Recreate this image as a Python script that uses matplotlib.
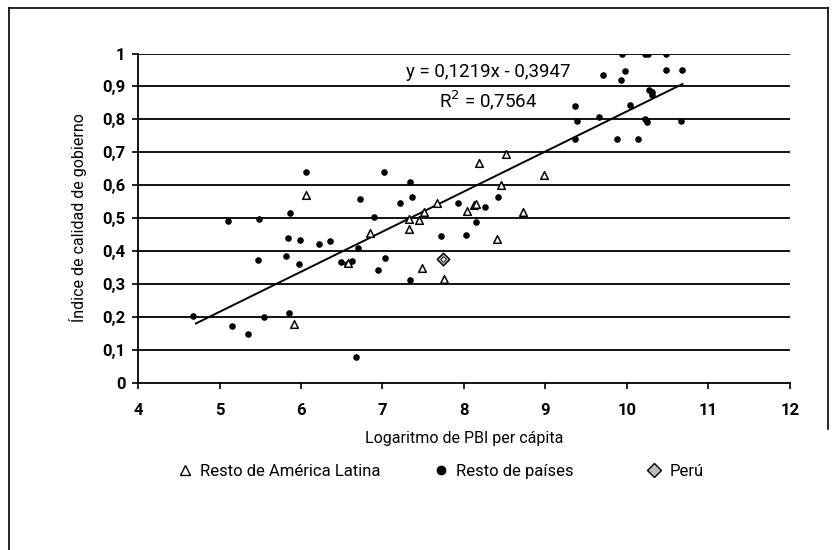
import numpy as np
import matplotlib
matplotlib.use("Agg")
import matplotlib.pyplot as plt
from matplotlib.lines import Line2D

plt.rcParams['font.family'] = ['Roboto', 'DejaVu Sans']

# Resto de America Latina (triangulos)
lat_x = [5.91, 6.06, 6.85, 6.58, 7.32, 7.45, 7.32, 7.51, 7.67, 8.04,
         8.12, 8.15, 8.19, 8.45, 8.52, 8.72, 8.98, 8.40, 7.48, 7.76]
lat_y = [0.177, 0.569, 0.453, 0.362, 0.496, 0.493, 0.467, 0.518, 0.545, 0.520,
         0.540, 0.542, 0.666, 0.600, 0.694, 0.519, 0.632, 0.435, 0.348, 0.316]

# Resto de paises (puntos)
res_x = [4.68, 5.10, 5.48, 5.86, 6.89, 6.72, 5.84, 5.99, 6.22, 6.36,
         5.47, 5.82, 5.98, 6.49, 6.63, 6.70, 6.94, 5.54, 5.85, 5.15,
         5.35, 6.67, 6.06, 7.02, 7.34, 7.36, 7.21, 7.93, 8.26, 8.42,
         8.15, 7.72, 8.02, 7.03, 7.34, 9.36, 9.39, 9.36, 9.66, 9.71,
         9.94, 10.22, 10.26, 10.48, 9.98, 9.93, 10.48, 10.68, 10.27, 10.31,
         10.31, 10.04, 10.22, 10.25, 10.66, 9.88, 10.13, 6.56]
res_y = [0.202, 0.492, 0.497, 0.516, 0.504, 0.558, 0.438, 0.432, 0.420, 0.429,
         0.373, 0.384, 0.359, 0.366, 0.369, 0.410, 0.342, 0.198, 0.212, 0.172,
         0.147, 0.078, 0.641, 0.639, 0.610, 0.563, 0.547, 0.545, 0.533, 0.565,
         0.487, 0.445, 0.449, 0.380, 0.311, 0.841, 0.795, 0.741, 0.808, 0.936,
         1.000, 1.000, 1.000, 1.000, 0.948, 0.921, 0.949, 0.949, 0.888, 0.882,
         0.873, 0.843, 0.800, 0.793, 0.796, 0.739, 0.739, 0.360]

# Peru
peru_x = [7.74]
peru_y = [0.374]

# recta de tendencia
pend, inter = 0.1219, -0.3947
x_min, x_max = 4.71, 10.68

fig = plt.figure(figsize=(8.37, 5.5), dpi=100)
ax = fig.add_axes([0.1649, 0.3045, 0.7789, 0.5982])

for yy in np.arange(0.1, 1.01, 0.1):
    ax.axhline(yy, color='black', lw=1.3, zorder=1)

ax.scatter(res_x, res_y, marker='o', s=14, color='black', zorder=3)
ax.scatter(lat_x, lat_y, marker='^', s=30, facecolor='white', edgecolor='black',
           linewidths=1.1, zorder=3)
ax.scatter(peru_x, peru_y, marker='D', s=40, facecolor='#bbbbbb', edgecolor='black',
           linewidths=1.1, zorder=4)
ax.scatter(peru_x, peru_y, marker='D', s=8, facecolor='white', edgecolor='black',
           linewidths=0.6, zorder=5)

xl = np.array([x_min, x_max])
ax.plot(xl, pend * xl + inter, color='black', lw=1.4, zorder=2)

ax.text(8.3, 0.945, 'y = 0,1219x - 0,3947', ha='center', va='center', fontsize=13.5)
ax.text(8.3, 0.858, 'R$^2$ = 0,7564', ha='center', va='center', fontsize=13.5)

ax.set_xlim(4, 12)
ax.set_ylim(0, 1)
ax.set_xticks(range(4, 13))
ax.set_yticks(np.arange(0, 1.01, 0.1))
ax.set_yticklabels(['0', '0,1', '0,2', '0,3', '0,4', '0,5', '0,6', '0,7', '0,8', '0,9', '1'])
ax.tick_params(axis='both', labelsize=12, length=4, width=1.2, colors='black')
for lab in ax.get_xticklabels() + ax.get_yticklabels():
    lab.set_fontweight('bold')
ax.tick_params(axis='x', pad=11)
ax.tick_params(axis='y', pad=5)
for s in ['top', 'right']:
    ax.spines[s].set_visible(False)
for s in ['left', 'bottom']:
    ax.spines[s].set_linewidth(1.3)

ax.set_xlabel('Logaritmo de PBI per cápita', fontsize=11.5, labelpad=9)
ax.set_ylabel('Índice de calidad de gobierno', fontsize=11.5, labelpad=11)

# leyenda: una entrada por serie, en su sitio
handles = [
    Line2D([], [], marker='^', ls='none', markersize=7, markerfacecolor='white',
           markeredgecolor='black', label='Resto de América Latina'),
    Line2D([], [], marker='o', ls='none', markersize=6, color='black', label='Resto de países'),
    Line2D([], [], marker='D', ls='none', markersize=7, markerfacecolor='#bbbbbb',
           markeredgecolor='black', label='Perú'),
]
leg_x = [0.2115, 0.5173, 0.7718]
for h, lx in zip(handles, leg_x):
    fig.legend(handles=[h], loc='center left', bbox_to_anchor=(lx, 0.143),
               frameon=False, fontsize=12, handletextpad=0.4, handlelength=1.0,
               borderpad=0, borderaxespad=0)

# marco de la figura
fig.add_artist(Line2D([0.0105, 0.0105], [0.0, 0.985], color='black', lw=1.2))
fig.add_artist(Line2D([0.0105, 0.989], [0.985, 0.985], color='black', lw=1.2))
fig.add_artist(Line2D([0.989, 0.989], [0.985, 0.22], color='black', lw=1.2))

fig.savefig('out.png', dpi=100)
